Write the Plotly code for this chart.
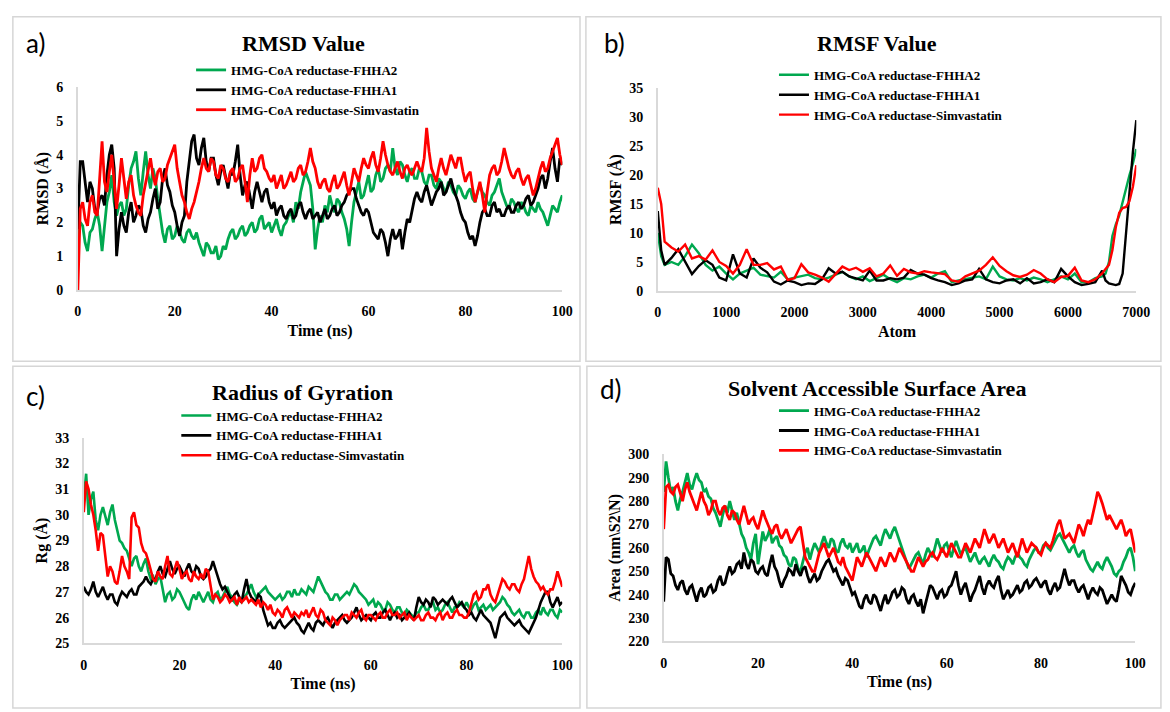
import plotly.graph_objects as go

# ---------------- data ----------------
TIME_NS = [i * 0.5 for i in range(201)]   # 0 .. 100 ns, 0.5 ns sampling
SERIES_NAMES = ["HMG-CoA reductase-FHHA2", "HMG-CoA reductase-FHHA1", "HMG-CoA reductase-Simvastatin"]

RMSD_FHHA2 = [1.5, 2.0, 1.9, 1.4, 1.15, 1.7, 1.8, 2.1, 2.3, 1.9,
              1.15, 2.0, 2.6, 2.9, 3.4, 2.6, 2.2, 2.5, 2.6, 2.2,
              2.4, 3.1, 3.6, 3.8, 4.1, 3.3, 2.8, 3.5, 4.1, 3.4,
              3.0, 3.6, 3.3, 2.7, 2.2, 1.7, 1.4, 1.8, 1.9, 1.5,
              1.6, 1.9, 1.7, 1.5, 1.4, 1.7, 1.8, 1.6, 1.5, 1.7,
              1.4, 1.2, 1.0, 1.4, 1.3, 1.1, 1.1, 1.3, 0.9, 1.0,
              1.3, 1.2, 1.5, 1.7, 1.8, 1.5, 1.6, 1.8, 1.9, 1.6,
              1.7, 1.9, 2.0, 1.7, 1.8, 2.1, 2.2, 1.8, 1.9, 2.0,
              1.7, 1.9, 2.1, 1.8, 1.6, 1.9, 2.0, 2.2, 2.3, 2.0,
              2.6, 2.4, 2.9, 3.2, 3.5, 3.3, 3.1, 2.4, 1.2, 1.8,
              2.2, 2.0, 2.5, 2.3, 2.8, 2.5, 2.3, 2.7, 2.6, 2.3,
              2.1, 1.8, 1.3, 2.0, 2.6, 2.9, 3.2, 2.7, 2.8, 3.1,
              3.4, 2.9, 3.0, 3.4, 3.6, 3.2, 3.3, 3.6, 3.7, 3.5,
              4.2, 3.6, 3.4, 3.8, 3.7, 3.4, 3.2, 3.5, 3.6, 3.3,
              3.3, 3.6, 3.5, 3.2, 3.1, 3.4, 3.4, 3.1, 3.0, 3.3,
              3.2, 3.0, 2.9, 3.2, 3.1, 2.9, 2.8, 3.1, 3.0, 2.8,
              2.7, 2.9, 3.0, 2.7, 2.6, 2.9, 3.1, 2.9, 2.8, 2.6,
              2.5, 2.8, 2.9, 3.1, 3.3, 2.9, 2.7, 2.5, 2.4, 2.7,
              2.6, 2.4, 2.3, 2.6, 2.5, 2.3, 2.2, 2.5, 2.4, 2.3,
              2.6, 2.4, 2.3, 2.1, 1.9, 2.2, 2.5, 2.4, 2.3, 2.6,
              2.8]
RMSD_FHHA1 = [1.8, 3.8, 3.8, 3.1, 2.6, 3.2, 3.0, 2.4, 2.3, 2.7,
              2.8, 2.5, 3.4, 4.0, 4.3, 3.6, 1.0, 1.8, 2.3, 1.9,
              1.7, 2.3, 2.6, 2.0, 2.2, 2.5, 2.4, 1.9, 1.7, 2.1,
              2.3, 2.7, 3.0, 2.4, 2.6, 3.3, 3.6, 3.1, 2.9, 2.5,
              2.3, 1.9, 1.6, 2.0, 2.2, 3.2, 3.9, 4.4, 4.6, 3.9,
              3.7, 4.2, 4.5, 3.8, 3.5, 3.9, 3.9, 3.4, 3.1, 3.5,
              3.7, 3.3, 3.0, 3.5, 3.4, 3.8, 4.3, 3.4, 2.8, 3.1,
              3.2, 2.8, 2.4, 2.9, 3.2, 2.9, 2.6, 2.9, 3.0, 2.6,
              2.4, 2.6, 2.2, 2.4, 2.5, 2.2, 2.1, 2.3, 2.4, 2.1,
              2.2, 2.5, 2.6, 2.3, 2.1, 2.3, 2.4, 2.1, 2.2, 2.3,
              2.0, 2.2, 2.4, 2.1, 2.2, 2.4, 2.5, 2.2, 2.3, 2.5,
              2.6, 2.8, 2.9, 3.0, 3.0, 2.7, 2.5, 2.3, 2.2, 2.4,
              2.3, 2.0, 1.7, 1.6, 1.5, 1.8, 1.7, 1.4, 1.0, 1.5,
              1.8, 1.5, 1.6, 1.8, 1.2, 1.7, 2.1, 2.0, 2.4, 2.7,
              2.9, 2.7, 2.6, 2.9, 3.1, 2.8, 2.5, 2.7, 2.9, 3.0,
              3.2, 2.8, 2.9, 3.1, 3.3, 3.0, 2.8, 2.6, 2.3, 2.1,
              2.0, 1.7, 1.5, 1.6, 1.3, 1.6, 2.0, 2.3, 2.4, 2.2,
              2.2, 2.5, 2.6, 2.3, 2.4, 2.2, 2.2, 2.4, 2.5, 2.3,
              2.3, 2.5, 2.6, 2.4, 2.5, 2.7, 2.8, 2.5, 2.6, 2.8,
              3.0, 3.3, 3.4, 3.0, 3.3, 3.8, 4.2, 3.6, 3.2, 3.9,
              3.7]
RMSD_SIMV = [0.0, 2.4, 2.6, 2.1, 1.9, 2.6, 2.8, 2.3, 2.2, 3.4,
             4.4, 3.2, 2.9, 3.5, 4.0, 3.2, 2.4, 3.1, 3.9, 3.3,
             2.7, 3.2, 3.4, 2.8, 2.5, 2.3, 2.2, 2.8, 3.2, 3.6,
             3.9, 3.4, 3.1, 3.5, 3.6, 3.2, 3.3, 3.7, 3.9, 4.1,
             4.3, 3.6, 3.2, 2.8, 2.6, 2.3, 2.1, 2.4, 2.6, 2.9,
             3.2, 3.6, 3.9, 3.6, 3.5, 3.9, 3.8, 3.4, 3.3, 3.7,
             3.6, 3.3, 3.2, 3.5, 3.6, 3.2, 3.3, 3.6, 3.7, 3.2,
             2.6, 3.4, 3.9, 3.5, 3.6, 3.9, 4.0, 3.6, 3.5, 3.3,
             3.2, 3.4, 3.0, 3.2, 3.4, 3.0, 3.1, 3.3, 3.5, 3.2,
             3.3, 3.6, 3.7, 3.4, 3.5, 3.8, 4.2, 3.8, 3.6, 3.2,
             3.0, 3.2, 3.3, 3.0, 2.9, 3.2, 3.4, 3.0, 3.1, 3.3,
             3.5, 3.1, 2.8, 3.2, 3.6, 3.4, 3.2, 3.6, 3.9, 3.7,
             3.6, 3.9, 4.1, 3.7, 3.5, 3.9, 4.4, 4.0, 3.7, 3.5,
             3.4, 3.6, 3.8, 3.5, 3.3, 3.6, 3.7, 3.5, 3.4, 3.6,
             3.8, 3.6, 3.5, 3.9, 4.8, 4.1, 3.6, 3.4, 3.2, 3.6,
             3.9, 3.6, 3.4, 3.7, 4.0, 3.8, 3.6, 3.9, 3.9, 3.5,
             3.2, 3.4, 3.5, 3.0, 2.6, 2.9, 3.2, 2.8, 2.3, 2.9,
             3.4, 3.6, 3.7, 3.4, 3.5, 3.8, 4.2, 3.9, 3.6, 3.4,
             3.3, 3.5, 3.6, 3.3, 3.1, 3.3, 3.4, 3.1, 2.8, 3.0,
             3.3, 3.6, 3.8, 3.5, 3.6, 3.9, 4.1, 4.3, 4.5, 4.0,
             3.7]

ATOMS = [0, 50, 100, 200, 300, 400, 500, 600, 700, 800, 900,
         1000, 1100, 1200, 1300, 1400, 1500, 1600, 1700, 1800, 1900,
         2000, 2100, 2200, 2300, 2400, 2500, 2600, 2700, 2800, 2900,
         3000, 3100, 3200, 3300, 3400, 3500, 3600, 3700, 3800, 3900,
         4000, 4100, 4200, 4300, 4400, 4500, 4600, 4700, 4800, 4900,
         5000, 5100, 5200, 5300, 5400, 5500, 5600, 5700, 5800, 5900,
         6000, 6100, 6200, 6300, 6400, 6500, 6550, 6600, 6650, 6700,
         6750, 6800, 6850, 6900, 6950, 7000]
RMSF_FHHA2 = [10.0, 6.0, 4.5, 5.0, 4.5, 6.0, 8.0, 6.5, 4.5, 3.5, 4.2,
              3.0, 2.0, 3.0, 3.5, 4.0, 2.8, 2.5, 2.3, 3.3, 2.0,
              2.3, 2.5, 2.8, 2.2, 2.0, 2.3, 2.8, 3.3, 2.5, 2.0,
              2.5, 1.7, 2.2, 2.8, 2.0, 1.5, 2.2, 2.0, 2.5, 2.8,
              2.3, 3.0, 3.4, 1.5, 1.8, 2.0, 2.3, 2.5, 2.0, 4.2,
              2.5, 2.0, 1.8, 2.2, 1.8, 2.3, 2.0, 1.5, 2.0, 2.5,
              2.0, 3.0, 1.5, 1.5, 2.2, 2.5, 3.0, 5.0, 9.5, 11.5,
              13.0, 15.5, 18.0, 20.0, 22.0, 24.5]
RMSF_FHHA1 = [13.8, 7.0, 4.5, 5.7, 7.2, 5.0, 2.9, 4.3, 5.3, 4.5, 2.3,
              1.8, 6.3, 3.0, 2.3, 5.6, 4.0, 3.2, 1.6, 1.1, 1.8,
              1.5, 1.0, 1.3, 1.2, 2.0, 3.9, 3.0, 3.3, 2.5, 2.2,
              1.8, 3.5, 1.8, 1.8, 2.2, 2.0, 2.3, 3.6, 3.0, 2.8,
              2.2, 1.8, 1.5, 1.0, 1.3, 1.8, 2.0, 3.8, 2.0, 1.5,
              1.3, 1.8, 2.0, 1.3, 2.2, 1.3, 1.5, 2.0, 1.5, 3.8,
              2.5, 1.5, 1.0, 1.2, 1.5, 3.5, 1.8, 1.3, 1.2, 1.0,
              1.2, 3.0, 10.0, 17.5, 24.0, 29.5]
RMSF_SIMV = [17.8, 15.0, 8.5, 7.5, 6.8, 8.0, 5.6, 6.0, 5.4, 7.0, 5.0,
             4.3, 3.0, 4.5, 7.2, 4.5, 4.5, 4.8, 3.7, 4.2, 1.9,
             2.2, 4.6, 3.2, 2.8, 2.3, 1.6, 3.0, 4.2, 3.6, 4.0,
             3.3, 3.9, 2.5, 3.0, 4.4, 2.6, 3.8, 3.2, 3.0, 3.4,
             3.2, 3.0, 2.9, 1.8, 1.6, 2.5, 3.0, 3.5, 4.5, 5.8,
             4.3, 3.4, 2.7, 2.4, 2.8, 3.6, 3.0, 2.0, 1.5, 2.4,
             2.6, 4.0, 1.8, 1.5, 2.0, 3.0, 3.8, 4.5, 7.0, 11.0,
             13.5, 14.3, 14.5, 15.5, 18.0, 21.7]

RG_FHHA2 = [30.6, 31.6, 30.0, 30.6, 30.9, 29.8, 29.4, 30.0, 30.3, 29.9,
            29.6, 30.1, 30.4, 29.8, 29.4, 29.0, 28.9, 28.7, 28.6, 28.3,
            28.0, 28.3, 28.4, 28.0, 27.8, 28.1, 28.3, 27.8, 27.5, 27.6,
            27.3, 27.5, 27.6, 27.1, 26.6, 26.9, 27.0, 26.7, 26.8, 27.1,
            27.0, 26.8, 26.6, 26.4, 26.3, 26.7, 26.9, 26.7, 27.0, 26.8,
            26.6, 26.8, 27.0, 26.7, 26.6, 26.9, 27.0, 26.7, 26.8, 27.0,
            27.2, 26.9, 26.8, 26.6, 26.5, 26.7, 26.6, 26.8, 26.9, 27.1,
            27.3, 27.0, 26.8, 26.9, 27.0, 27.1, 27.2, 27.0, 26.9, 26.8,
            26.7, 26.8, 26.9, 26.7, 26.8, 27.0, 27.0, 26.8, 27.1, 26.9,
            26.9, 27.1, 27.0, 26.9, 27.2, 27.1, 27.0, 27.3, 27.6, 27.4,
            27.2, 27.0, 26.9, 26.7, 26.7, 26.9, 26.9, 26.7, 26.8, 26.9,
            27.0, 26.9, 27.1, 27.3, 27.2, 27.0, 26.9, 26.8, 26.7, 26.5,
            26.6, 26.7, 26.4, 26.6, 26.5, 26.3, 26.3, 26.6, 26.5, 26.3,
            26.2, 26.4, 26.4, 26.2, 26.1, 26.3, 26.2, 26.1, 26.0, 26.2,
            26.2, 26.4, 26.5, 26.3, 26.3, 26.5, 26.6, 26.3, 26.4, 26.2,
            26.3, 26.5, 26.6, 26.4, 26.2, 26.4, 26.4, 26.6, 26.5, 26.4,
            26.6, 26.4, 26.3, 26.5, 26.6, 26.3, 26.4, 26.5, 26.3, 26.4,
            26.5, 26.3, 26.4, 26.5, 26.6, 26.8, 26.7, 26.5, 26.4, 26.2,
            26.1, 26.2, 26.3, 26.1, 26.0, 26.2, 26.2, 26.0, 26.0, 26.2,
            26.3, 26.1, 26.4, 26.2, 26.1, 26.3, 26.3, 26.1, 26.0, 26.3,
            26.2]
RG_FHHA1 = [27.2, 27.0, 26.9, 27.1, 27.4, 27.0, 26.8, 27.0, 27.2, 26.9,
            26.7, 26.9, 26.9, 26.6, 26.5, 26.8, 27.0, 26.9, 26.8, 27.0,
            27.1, 26.9, 26.9, 27.2, 27.3, 27.4, 27.6, 27.4, 27.3, 27.5,
            27.5, 27.8, 28.0, 27.7, 27.6, 27.9, 28.2, 27.9, 27.7, 27.9,
            28.0, 27.8, 27.6, 27.9, 28.1, 27.8, 27.7, 28.0, 27.9, 27.6,
            27.5, 27.6, 27.8, 27.9, 28.2, 27.9, 27.6, 27.3, 27.1, 27.2,
            27.0, 26.8, 26.7, 26.9, 27.0, 26.8, 26.6, 27.1, 27.5, 27.0,
            26.8, 26.7, 26.6, 26.9, 26.8, 26.3, 26.0, 25.7, 25.8, 25.6,
            25.6, 25.8, 25.9, 25.7, 25.6, 25.7, 25.8, 25.9, 26.0, 25.8,
            25.7, 25.5, 25.4, 25.6, 25.8, 25.6, 25.5, 25.8, 25.9, 25.8,
            25.7, 25.9, 26.0, 25.8, 25.6, 25.8, 25.9, 26.0, 26.1, 25.9,
            25.8, 25.9, 26.0, 26.2, 26.4, 26.1, 25.9, 26.0, 26.1, 26.0,
            25.9, 26.1, 26.2, 26.0, 26.0, 26.2, 26.3, 26.1, 25.9, 26.1,
            26.2, 26.0, 26.1, 25.9, 26.0, 26.1, 26.2, 26.0, 25.9, 26.4,
            26.8, 26.6, 26.5, 26.7, 26.6, 26.4, 26.8, 26.7, 26.5, 26.6,
            26.7, 26.6, 26.5, 26.7, 26.8, 26.6, 26.4, 26.5, 26.6, 26.4,
            26.3, 26.1, 26.2, 26.0, 25.9, 26.1, 26.3, 26.1, 26.0, 25.9,
            25.8, 25.5, 25.2, 25.6, 26.0, 26.1, 26.2, 26.0, 25.9, 25.8,
            25.7, 25.8, 25.9, 25.7, 25.6, 25.5, 25.4, 25.6, 25.8, 26.0,
            26.3, 26.6, 26.8, 27.0, 27.0, 26.6, 26.4, 26.6, 26.8, 26.5,
            26.6]
RG_SIMV = [30.1, 31.3, 31.0, 30.4, 30.0, 29.4, 28.6, 29.3, 29.2, 28.3,
           27.6, 28.0, 27.8, 27.4, 27.3, 27.8, 28.4, 28.0, 27.8, 27.5,
           29.9, 30.1, 29.6, 29.5, 28.9, 28.6, 28.5, 28.2, 27.8, 27.5,
           27.4, 27.8, 27.6, 27.5, 28.0, 28.4, 27.7, 27.6, 27.9, 28.2,
           27.9, 27.5, 27.7, 27.8, 27.5, 27.4, 27.8, 27.6, 27.5, 27.7,
           27.5, 27.9, 27.8, 27.2, 26.7, 26.9, 26.8, 26.6, 26.7, 26.9,
           26.8, 26.6, 26.7, 26.8, 26.5, 26.8, 26.6, 26.7, 26.8, 26.6,
           26.7, 26.6, 26.5, 26.7, 26.4, 26.6, 26.5, 26.3, 26.5, 26.2,
           26.1, 26.3, 26.2, 26.0, 26.3, 26.4, 26.2, 26.0, 26.2, 26.1,
           26.0, 26.2, 26.1, 26.3, 26.0, 26.2, 26.4, 26.1, 26.0, 26.3,
           26.2, 25.9, 25.8, 25.7, 26.0, 25.9, 25.7, 25.9, 26.0, 26.1,
           26.1, 25.9, 26.2, 26.1, 26.0, 26.2, 26.3, 26.0, 25.9, 26.1,
           26.1, 26.0, 25.9, 26.1, 26.2, 26.0, 26.0, 26.2, 26.3, 26.1,
           26.1, 26.2, 26.0, 26.1, 26.2, 25.9, 26.1, 26.0, 25.9, 26.0,
           26.1, 25.9, 25.9, 26.1, 26.2, 26.0, 26.0, 25.9, 26.1, 26.2,
           25.9, 26.1, 26.2, 26.0, 26.0, 26.2, 26.3, 26.1, 26.1, 26.0,
           26.0, 26.2, 26.6, 26.9, 27.0, 26.7, 26.8, 27.1, 27.1, 27.3,
           26.9, 26.7, 26.6, 26.9, 27.2, 27.5, 27.4, 27.2, 27.1, 27.3,
           27.3, 27.1, 27.0, 27.3, 27.5, 27.9, 28.4, 27.9, 27.6, 27.4,
           27.3, 27.1, 27.2, 27.0, 26.9, 27.1, 27.1, 27.4, 27.8, 27.5,
           27.2]

SASA_FHHA2 = [284, 297, 290, 284, 286, 280, 276, 281, 284, 288,
              292, 287, 285, 289, 292, 289, 288, 284, 285, 282,
              281, 277, 275, 272, 269, 274, 278, 275, 280, 276,
              272, 275, 270, 266, 264, 260, 258, 255, 262, 266,
              253, 260, 267, 263, 265, 268, 262, 264, 265, 261,
              260, 257, 256, 253, 252, 256, 255, 251, 250, 254,
              258, 260, 255, 259, 262, 260, 258, 262, 265, 262,
              260, 264, 263, 259, 258, 262, 264, 261, 260, 262,
              258, 260, 262, 258, 259, 261, 256, 259, 262, 264,
              265, 263, 261, 265, 268, 266, 264, 267, 269, 266,
              263, 260, 258, 254, 251, 253, 255, 257, 258, 255,
              253, 257, 260, 258, 256, 260, 264, 261, 258, 261,
              262, 259, 256, 260, 263, 260, 257, 259, 260, 257,
              254, 256, 258, 255, 253, 255, 256, 254, 252, 255,
              257, 255, 254, 252, 251, 254, 256, 255, 253, 256,
              258, 256, 255, 253, 252, 255, 257, 259, 260, 258,
              258, 261, 262, 260, 259, 261, 263, 265, 266, 264,
              262, 260, 258, 260, 261, 258, 256, 258, 259, 255,
              253, 251, 250, 252, 254, 252, 251, 254, 256, 254,
              252, 249, 248, 250, 251, 254, 256, 259, 260, 256,
              250]
SASA_FHHA1 = [237, 256, 255, 249, 248, 244, 242, 245, 246, 242,
              240, 243, 244, 240, 237, 241, 243, 239, 240, 243,
              244, 241, 242, 246, 248, 244, 245, 249, 252, 249,
              250, 253, 254, 251, 258, 253, 251, 255, 254, 250,
              249, 251, 252, 249, 248, 253, 257, 252, 250, 246,
              243, 246, 248, 251, 250, 248, 253, 250, 248, 251,
              252, 248, 245, 247, 249, 246, 247, 250, 252, 254,
              255, 252, 250, 251, 248, 246, 244, 247, 246, 243,
              240, 241, 238, 235, 234, 238, 240, 237, 236, 240,
              239, 236, 233, 237, 240, 236, 238, 241, 242, 239,
              240, 243, 242, 238, 236, 239, 240, 237, 235, 238,
              232, 236, 240, 244, 243, 240, 238, 241, 242, 239,
              240, 243, 244, 247, 250, 244, 240, 243, 245, 241,
              237, 240, 242, 245, 248, 243, 240, 244, 246, 244,
              243, 246, 248, 242, 238, 240, 242, 239, 240, 242,
              244, 241, 242, 245, 246, 243, 244, 246, 247, 245,
              243, 245, 246, 242, 240, 243, 245, 242, 243, 247,
              251, 247, 244, 246, 246, 243, 241, 243, 244, 241,
              238, 241, 243, 241, 240, 243, 242, 239, 236, 238,
              240, 238, 237, 242, 248, 246, 244, 241, 240, 243,
              245]
SASA_SIMV = [268, 286, 287, 284, 283, 286, 287, 283, 280, 285,
             288, 284, 281, 278, 276, 280, 284, 280, 278, 274,
             276, 280, 280, 276, 274, 277, 278, 274, 272, 276,
             275, 272, 270, 274, 278, 274, 270, 272, 273, 270,
             268, 272, 276, 273, 270, 268, 266, 269, 270, 266,
             264, 266, 268, 265, 262, 264, 266, 268, 269, 262,
             256, 254, 252, 250, 250, 254, 258, 260, 262, 259,
             256, 258, 260, 257, 254, 253, 256, 252, 250, 248,
             246, 251, 256, 254, 252, 255, 258, 256, 254, 252,
             250, 253, 256, 254, 252, 255, 258, 256, 254, 257,
             260, 258, 256, 254, 252, 250, 250, 253, 256, 254,
             252, 254, 255, 257, 258, 256, 255, 257, 260, 258,
             256, 259, 262, 260, 258, 256, 256, 259, 262, 260,
             258, 261, 264, 262, 260, 264, 268, 265, 262, 264,
             266, 263, 260, 262, 264, 261, 258, 260, 262, 259,
             256, 260, 264, 261, 258, 260, 262, 261, 260, 258,
             257, 260, 262, 261, 260, 263, 266, 270, 272, 268,
             264, 265, 266, 264, 262, 266, 270, 268, 265, 269,
             272, 270, 274, 279, 284, 282, 279, 276, 272, 274,
             272, 270, 268, 270, 272, 269, 265, 267, 268, 263,
             258]

# ---------------- styling ----------------
W, H = 1170, 712
COLORS = ["#00a84f", "#000000", "#ff0000"]
SERIF = "Liberation Serif"
AXIS_COLOR = "#d9d9d9"
BOX_COLOR = "#d6d6d6"


def fx(p):
    return p / W


def fy(p):
    return 1 - p / H


tickfont = dict(family=SERIF, size=14, color="black", weight="bold")
axtitlefont = dict(family=SERIF, size=16, color="black", weight="bold")
legendfont = dict(family=SERIF, size=13, color="black", weight="bold")

fig = go.Figure()

panels = [
    dict(xa="x", ya="y", leg="legend", x=TIME_NS, ys=[RMSD_FHHA2, RMSD_FHHA1, RMSD_SIMV], width=2.8),
    dict(xa="x2", ya="y2", leg="legend2", x=ATOMS, ys=[RMSF_FHHA2, RMSF_FHHA1, RMSF_SIMV], width=2.4),
    dict(xa="x3", ya="y3", leg="legend3", x=TIME_NS, ys=[RG_FHHA2, RG_FHHA1, RG_SIMV], width=2.6),
    dict(xa="x4", ya="y4", leg="legend4", x=TIME_NS, ys=[SASA_FHHA2, SASA_FHHA1, SASA_SIMV], width=2.8),
]
for p in panels:
    for name, ys, col in zip(SERIES_NAMES, p["ys"], COLORS):
        fig.add_trace(go.Scatter(x=p["x"], y=ys, mode="lines", name=name,
                                 line=dict(color=col, width=p["width"]),
                                 xaxis=p["xa"], yaxis=p["ya"], legend=p["leg"]))


def xaxis(x0, x1, anchor, rng, dtick, title):
    return dict(domain=[fx(x0), fx(x1)], anchor=anchor, range=rng, dtick=dtick, tick0=0,
                showgrid=False, zeroline=False, showline=True, linecolor=AXIS_COLOR, linewidth=1.5,
                ticks="outside", ticklen=8, tickcolor="rgba(0,0,0,0)", tickfont=tickfont,
                title=dict(text=title, font=axtitlefont, standoff=6))


def yaxis(y0, y1, anchor, rng, dtick, title):
    return dict(domain=[fy(y0), fy(y1)], anchor=anchor, range=rng, dtick=dtick,
                showgrid=False, zeroline=False, showline=True, linecolor=AXIS_COLOR, linewidth=1.5,
                ticks="outside", ticklen=10, tickcolor="rgba(0,0,0,0)", tickfont=tickfont,
                title=dict(text=title, font=axtitlefont, standoff=4))


def legend(x, y):
    return dict(x=fx(x), y=fy(y), xanchor="left", yanchor="top", font=legendfont,
                bgcolor="rgba(0,0,0,0)", borderwidth=0)


annotations = []
for txt, x, y in [("a)", 20, 37), ("b)", 607, 37), ("c)", 20, 397), ("d)", 603, 390)]:
    annotations.append(dict(text=txt, x=fx(x), y=fy(y), xref="paper", yref="paper",
                            xanchor="left", yanchor="middle", showarrow=False,
                            font=dict(family="Lato", size=26, color="black")))
for txt, x, y in [("RMSD Value", 304, 37), ("RMSF Value", 887, 37),
                  ("Radius of Gyration", 303, 394), ("Solvent Accessible Surface Area", 887, 390)]:
    annotations.append(dict(text=txt, x=fx(x), y=fy(y), xref="paper", yref="paper",
                            xanchor="center", yanchor="middle", showarrow=False,
                            font=dict(family=SERIF, size=22, color="black", weight="bold")))

shapes = []
for x0, y0, x1, y1 in [(9, 10, 585, 362), (591, 10, 1175, 362), (9, 367, 585, 716), (592, 367, 1175, 716)]:
    shapes.append(dict(type="rect", xref="paper", yref="paper", x0=fx(x0), x1=fx(x1),
                       y0=fy(y1), y1=fy(y0), line=dict(color=BOX_COLOR, width=1.5),
                       fillcolor="rgba(0,0,0,0)", layer="below"))

fig.update_layout(
    width=W, height=H, margin=dict(l=0, r=0, t=0, b=0),
    paper_bgcolor="white", plot_bgcolor="white",
    xaxis=xaxis(75, 567, "y", [0, 100], 20, "Time (ns)"),
    yaxis=yaxis(289, 82, "x", [0, 6], 1, "RMSD (Å)"),
    xaxis2=xaxis(664, 1150, "y2", [0, 7000], 1000, "Atom"),
    yaxis2=yaxis(290, 83, "x2", [0, 35], 5, "RMSF (Å)"),
    xaxis3=xaxis(81, 567, "y3", [0, 100], 20, "Time (ns)"),
    yaxis3=yaxis(650, 440, "x3", [25, 33], 1, "Rg (Å)"),
    xaxis4=xaxis(670, 1149, "y4", [0, 100], 20, "Time (ns)"),
    yaxis4=yaxis(648, 457, "x4", [220, 300], 10, "Area (nm\\S2\\N)"),
    legend=legend(190, 49),
    legend2=legend(782, 54),
    legend3=legend(175, 402),
    legend4=legend(782, 397),
    annotations=annotations,
    shapes=shapes,
)

fig.write_html("out.html")
